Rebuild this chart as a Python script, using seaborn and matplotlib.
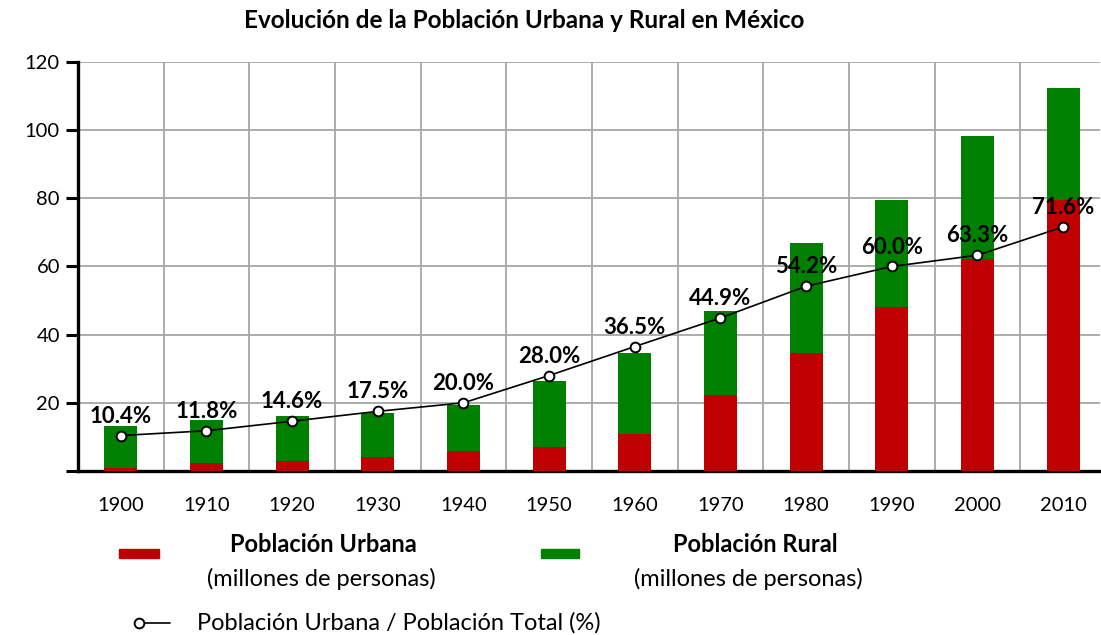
import seaborn as sns
import matplotlib.pyplot as plt
import numpy as np
import pandas as pd
from matplotlib.ticker import FixedLocator

sns.set_style('white')
plt.rcParams['font.family'] = ['Lato', 'DejaVu Sans']
plt.rcParams['text.color'] = 'black'
plt.rcParams['xtick.color'] = 'black'
plt.rcParams['ytick.color'] = 'black'

years = ['1900', '1910', '1920', '1930', '1940', '1950', '1960', '1970', '1980', '1990', '2000', '2010']
urbana = [1.0, 2.2, 3.0, 4.2, 5.8, 7.0, 10.9, 22.3, 34.6, 48.0, 62.1, 79.4]
total = [13.1, 15.0, 16.2, 17.1, 19.3, 26.4, 34.6, 46.8, 67.0, 79.4, 98.2, 112.4]
pct = [10.4, 11.8, 14.6, 17.5, 20.0, 28.0, 36.5, 44.9, 54.2, 60.0, 63.3, 71.6]

df = pd.DataFrame({'anio': years, 'urbana': urbana, 'total': total, 'pct': pct})

rojo = '#C00000'
verde = '#008000'

fig = plt.figure(figsize=(11.01, 6.35), dpi=100)
ax = fig.add_axes([0.0708, 0.2583, 0.9282, 0.6441])

sns.barplot(data=df, x='anio', y='total', color=verde, width=0.385, saturation=1,
            linewidth=0, ax=ax, zorder=2)
sns.barplot(data=df, x='anio', y='urbana', color=rojo, width=0.385, saturation=1,
            linewidth=0, ax=ax, zorder=3)

pos = np.arange(len(years))
ax.plot(pos, df['pct'], color='black', lw=1.2, marker='o', markersize=7,
        markerfacecolor='white', markeredgecolor='black', markeredgewidth=1.4, zorder=5)
for x, p in zip(pos, pct):
    ax.annotate(f'{p:.1f}%', (x, p), xytext=(0, 14), textcoords='offset points',
                ha='center', va='center', fontsize=16, fontweight='bold', zorder=6)

ax.set_ylim(0, 120)
ax.set_xlim(-0.5, 11.43)
ax.set_yticks([0, 20, 40, 60, 80, 100, 120])
ax.set_yticklabels(['', '20', '40', '60', '80', '100', '120'])
ax.xaxis.set_minor_locator(FixedLocator(np.arange(0.5, 11, 1)))
ax.tick_params(axis='x', which='major', length=0, pad=19, labelsize=14.5)
ax.tick_params(axis='x', which='minor', length=9, width=2.2, color='black', direction='out')
ax.tick_params(axis='y', which='major', length=9, width=2.2, color='black', direction='out',
               pad=4, labelsize=14.5, left=True)
ax.grid(axis='y', which='major', color='#A6A6A6', lw=1.3, zorder=0)
ax.grid(axis='x', which='minor', color='#A6A6A6', lw=1.3, zorder=0)
ax.grid(axis='x', which='major', visible=False)
ax.set_axisbelow(True)
ax.set_xlabel('')
ax.set_ylabel('')
for s in ['top', 'right']:
    ax.spines[s].set_visible(False)
for s in ['left', 'bottom']:
    ax.spines[s].set_linewidth(2.4)
    ax.spines[s].set_color('black')

fig.text(0.476, 0.968, 'Evolución de la Población Urbana y Rural en México',
         ha='center', va='center', fontsize=17.5, fontweight='bold')

# leyenda hecha a mano
fig.patches.append(plt.Rectangle((119 / 1101, 1 - 558 / 635), 40 / 1101, 9 / 635,
                                 transform=fig.transFigure, color=rojo))
fig.patches.append(plt.Rectangle((541 / 1101, 1 - 558 / 635), 38 / 1101, 9 / 635,
                                 transform=fig.transFigure, color=verde))
fig.text(323 / 1101, 1 - 545 / 635, 'Población Urbana', ha='center', va='center',
         fontsize=17, fontweight='bold')
fig.text(321 / 1101, 1 - 579 / 635, '(millones de personas)', ha='center', va='center', fontsize=17)
fig.text(755 / 1101, 1 - 545 / 635, 'Población Rural', ha='center', va='center',
         fontsize=17, fontweight='bold')
fig.text(748 / 1101, 1 - 579 / 635, '(millones de personas)', ha='center', va='center', fontsize=17)
fig.lines.append(plt.Line2D([136 / 1101, 170 / 1101], [1 - 623 / 635] * 2, transform=fig.transFigure,
                            color='black', lw=1.2))
fig.lines.append(plt.Line2D([139 / 1101], [1 - 623 / 635], transform=fig.transFigure, marker='o',
                            markersize=7, markerfacecolor='white', markeredgecolor='black',
                            markeredgewidth=1.4, lw=0))
fig.text(197 / 1101, 1 - 623 / 635, 'Población Urbana / Población Total (%)', ha='left', va='center',
         fontsize=17)

fig.savefig('out.png', dpi=100)
